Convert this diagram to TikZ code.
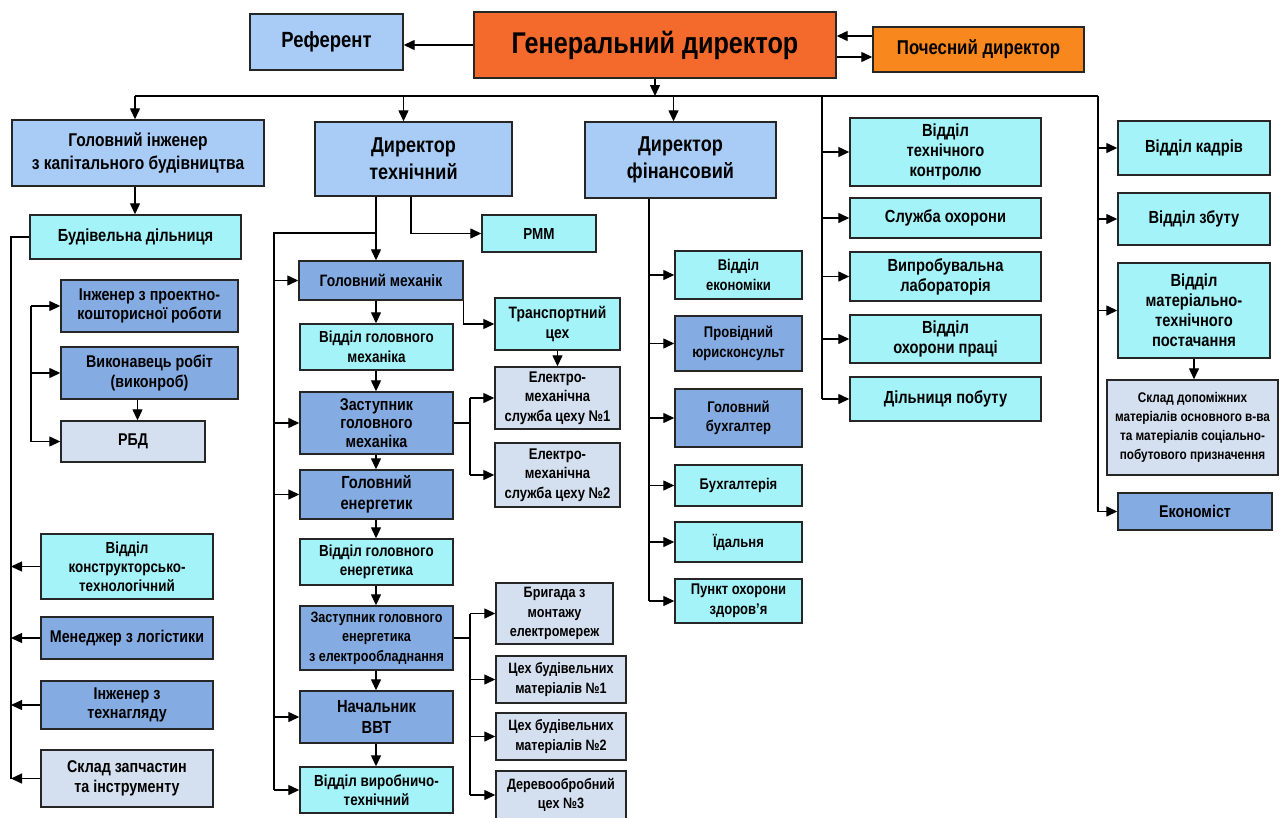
\documentclass[tikz,border=0pt]{standalone}
\usepackage{fontspec}
\setmainfont{Liberation Sans}[FakeStretch=0.84]
\usetikzlibrary{arrows.meta,positioning}
\definecolor{gdorange}{RGB}{243,106,44}
\definecolor{hororange}{RGB}{248,135,30}
\definecolor{lblue}{RGB}{168,204,245}
\definecolor{mblue}{RGB}{132,172,226}
\definecolor{lcyan}{RGB}{164,243,249}
\definecolor{pale}{RGB}{212,223,239}

\begin{document}
\begin{tikzpicture}[x=1pt,y=-1pt, line width=1.3pt,
  every node/.style={font=\fontsize{15.5}{19.5}\selectfont\bfseries},
  unit/.style={draw=black!85, line width=1.4pt, align=center, inner sep=1pt},
  fsize/.style 2 args={font=\fontsize{#1}{#2}\selectfont\bfseries},
  wh/.style 2 args={minimum width=#1, minimum height=#2},
  arr/.style={-{Triangle[length=11pt,width=10pt]}}]
\useasboundingbox (0,0) rectangle (1283,817);

% top
\node[unit, fill=gdorange, wh={362}{66}, fsize={30}{32}] (gd) at (655,45) {Генеральний директор};
\node[unit, fill=lblue, wh={153}{56}, fsize={22}{24}] (ref) at (326.5,42) {Референт};
\node[unit, fill=hororange, wh={211}{45}, fsize={20}{22}] (poch) at (978.5,49.5) {Почесний директор};

% second row
\node[unit, fill=lblue, wh={252}{66}, fsize={18.5}{23}] (ghi) at (138,153) {Головний інженер\\з капітального будівництва};
\node[unit, fill=lblue, wh={197}{74}, fsize={21.5}{27}] (dtech) at (413.5,159) {Директор\\технічний};
\node[unit, fill=lblue, wh={191}{76}, fsize={21.5}{27}] (dfin) at (680.5,160) {Директор\\фінансовий};

% services
\begin{scope}[every node/.append style={fsize={17.5}{20}}]
\node[unit, fill=lcyan, wh={191}{68}] (vtk) at (945.5,152) {Відділ\\технічного\\контролю};
\node[unit, fill=lcyan, wh={191}{40}] (sokh) at (945.5,218) {Служба охорони};
\node[unit, fill=lcyan, wh={191}{49}] (vlab) at (945.5,276.5) {Випробувальна\\лабораторія};
\node[unit, fill=lcyan, wh={191}{48}] (vop) at (945.5,339) {Відділ\\охорони праці};
\node[unit, fill=lcyan, wh={191}{44}] (dpob) at (945.5,399) {Дільниця побуту};
\node[unit, fill=lcyan, wh={152}{54}] (vkad) at (1194,148) {Відділ кадрів};
\node[unit, fill=lcyan, wh={152}{52}] (vzb) at (1194,219) {Відділ збуту};
\node[unit, fill=lcyan, wh={152}{95}] (vmtp) at (1194,310.5) {Відділ\\матеріально-\\технічного\\постачання};
\end{scope}
\node[unit, fill=pale, wh={171}{95}, fsize={14}{19}] (sklad) at (1192.5,427.5) {Склад допоміжних\\матеріалів основного в-ва\\та матеріалів соціально-\\побутового призначення};
\node[unit, fill=mblue, wh={154}{37}, fsize={17}{20}] (ekon) at (1195,511.5) {Економіст};

% capital construction
\begin{scope}[every node/.append style={fsize={17}{19.5}}]
\node[unit, fill=lcyan, wh={211}{44}, fsize={17.5}{20}] (bd) at (135.5,237) {Будівельна дільниця};
\node[unit, fill=mblue, wh={177}{52}] (ipk) at (149.5,306) {Інженер з проектно-\\кошторисної роботи};
\node[unit, fill=mblue, wh={177}{52}] (vr) at (149.5,373) {Виконавець робіт\\(виконроб)};
\node[unit, fill=pale, wh={144}{41}] (rbd) at (133,441.5) {РБД};
\node[unit, fill=lcyan, wh={172}{65}, fsize={16}{19}] (vkt) at (127,566.5) {Відділ\\конструкторсько-\\технологічний};
\node[unit, fill=mblue, wh={172}{42}] (mlog) at (127,638) {Менеджер з логістики};
\node[unit, fill=mblue, wh={172}{48}] (itn) at (127,705) {Інженер з\\технагляду};
\node[unit, fill=pale, wh={172}{57}] (szap) at (127,778.5) {Склад запчастин\\та інструменту};
\end{scope}

% technical
\begin{scope}[every node/.append style={fsize={16}{19.5}}]
\node[unit, fill=lcyan, wh={114}{37}] (pmm) at (539,233.5) {РММ};
\node[unit, fill=mblue, wh={164}{39}, fsize={16.5}{19.5}] (gm) at (381,280.5) {Головний механік};
\node[unit, fill=lcyan, wh={153}{46}] (vgm) at (376.5,347) {Відділ головного\\механіка};
\node[unit, fill=mblue, wh={153}{62}, fsize={17}{18.5}] (zgm) at (376.5,423) {Заступник\\головного\\механіка};
\node[unit, fill=mblue, wh={153}{49}, fsize={17.5}{21}] (ge) at (376.5,494.5) {Головний\\енергетик};
\node[unit, fill=lcyan, wh={153}{46}] (vge) at (376.5,562) {Відділ головного\\енергетика};
\node[unit, fill=mblue, wh={153}{64}, fsize={15}{19.5}] (zge) at (376.5,638) {Заступник головного\\енергетика\\з електрообладнання};
\node[unit, fill=mblue, wh={153}{52}, fsize={17.5}{21}] (nvvt) at (376.5,717) {Начальник\\ВВТ};
\node[unit, fill=lcyan, wh={153}{46}] (vvt) at (376.5,790) {Відділ виробничо-\\технічний};
\node[unit, fill=lcyan, wh={125}{52}, fsize={16.5}{20}] (tc) at (557.5,324) {Транспортний\\цех};
\end{scope}
\node[unit, fill=pale, wh={125}{62}] (em1) at (557.5,398) {Електро-\\механічна\\служба цеху №1};
\node[unit, fill=pale, wh={125}{64}] (em2) at (557.5,475) {Електро-\\механічна\\служба цеху №2};
\begin{scope}[every node/.append style={fsize={15}{19.5}}]
\node[unit, fill=pale, wh={117}{61}] (br) at (554.5,613.5) {Бригада з\\монтажу\\електромереж};
\node[unit, fill=pale, wh={130}{47}] (cb1) at (561,679.5) {Цех будівельних\\матеріалів №1};
\node[unit, fill=pale, wh={130}{47}] (cb2) at (561,736.5) {Цех будівельних\\матеріалів №2};
\node[unit, fill=pale, wh={130}{48}] (dc3) at (561,795) {Деревообробний\\цех №3};
\end{scope}

% financial
\node[unit, fill=lcyan, wh={127}{48}] (vek) at (738.5,275) {Відділ\\економіки};
\node[unit, fill=mblue, wh={127}{55}] (pyur) at (738.5,343.5) {Провідний\\юрисконсульт};
\node[unit, fill=mblue, wh={127}{58}] (gbuh) at (738.5,418) {Головний\\бухгалтер};
\node[unit, fill=lcyan, wh={127}{41}] (buh) at (738.5,485.5) {Бухгалтерія};
\node[unit, fill=lcyan, wh={127}{40}] (yid) at (738.5,542) {Їдальня};
\node[unit, fill=lcyan, wh={127}{44}] (poz) at (738.5,601) {Пункт охорони\\здоров'я};

% top links
\draw[arr] (gd.west) -- (gd.west -| ref.east);
\draw[arr] (poch.west |- 0,36) -- (gd.east |- 0,36);
\draw[arr] (gd.east |- 0,57) -- (poch.west |- 0,57);

% main bus
\coordinate (busl) at (135,96);
\coordinate (busr) at (1098,96);
\coordinate (c1) at (822,96);
\draw[arr] (gd.south) -- (gd.south |- busl);
\draw (busl) -- (busr);
\draw[arr] (busl) -- (busl |- ghi.north);
\draw[arr] ([xshift=-10]dtech.north |- busl) -- ([xshift=-10]dtech.north);
\draw[arr] ([xshift=-7]dfin.north |- busl) -- ([xshift=-7]dfin.north);
\draw (c1) -- (c1 |- dpob);
\foreach \n in {vtk,sokh,vlab,vop,dpob} \draw[arr] (c1 |- \n) -- (\n.west);
\draw (busr) -- (busr |- ekon);
\foreach \n in {vkad,vzb,vmtp,ekon} \draw[arr] (busr |- \n) -- (\n.west);
\draw[arr] (vmtp.south) -- (vmtp.south |- sklad.north);

% capital construction links
\coordinate (lb) at (11,0);
\coordinate (ib) at (31,0);
\draw[arr] (ghi.south -| busl) -- (bd.north -| busl);
\draw (bd.west) -- (bd.west -| lb) -- (lb |- szap);
\foreach \n in {vkt,mlog,itn,szap} \draw[arr] (\n.west) -- (\n.west -| lb);
\draw (ib |- ipk) -- (ib |- rbd);
\foreach \n in {ipk,vr,rbd} \draw[arr] (ib |- \n) -- (\n.west);
\draw[arr] ([xshift=-12]vr.south) -- ([xshift=-12]vr.south |- rbd.north);

% technical links
\coordinate (tx) at (376,0);
\coordinate (tb) at (274,0);
\coordinate (tj) at (376,233);
\coordinate (rj) at (411,0);
\draw[arr] (tx |- dtech.south) -- (tx |- gm.north);
\draw (tj) -- (tj -| tb) -- (tb |- vvt);
\foreach \n in {gm,zgm,ge,nvvt,vvt} \draw[arr] (tb |- \n) -- (\n.west);
\draw[arr] (rj |- dtech.south) |- (pmm.west);
\foreach \a/\b in {gm/vgm,vgm/zgm,zgm/ge,ge/vge,vge/zge,zge/nvvt,nvvt/vvt}
  \draw[arr] (tx |- \a.south) -- (tx |- \b.north);
\draw[arr] (gm.south east) |- (tc.west);
\draw[arr] (tc.south) -- (em1.north);
\coordinate (eb) at (470,0);
\draw (zgm.east) -- (zgm.east -| eb);
\draw (eb |- em1) -- (eb |- em2);
\foreach \n in {em1,em2} \draw[arr] (eb |- \n) -- (\n.west);
\draw (zge.east) -- (zge.east -| eb);
\draw (eb |- br) -- (eb |- dc3);
\foreach \n in {br,cb1,cb2,dc3} \draw[arr] (eb |- \n) -- (\n.west);

% financial links
\coordinate (fb) at (649,0);
\draw (fb |- dfin.south) -- (fb |- poz);
\foreach \n in {vek,pyur,gbuh,buh,yid,poz} \draw[arr] (fb |- \n) -- (\n.west);
\end{tikzpicture}
\end{document}
